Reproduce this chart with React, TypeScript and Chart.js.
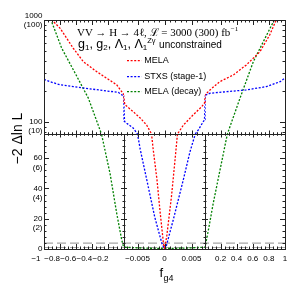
import React, { useEffect, useRef } from 'react';
import { Chart, registerables } from 'chart.js';

Chart.register(...registerables);

// ---------------- data ----------------
const melaF = [-0.95, -0.901, -0.8, -0.637, -0.512, -0.346, -0.222, -0.098, -0.036, -0.0076, -0.0074, -0.0073, -0.0058, -0.0045, -0.0033, -0.0024, -0.0021, -0.0014, -0.0008, -0.0002, 0, 0.0004, 0.0013, 0.0019, 0.0024, 0.0035, 0.0053, 0.0069, 0.0074, 0.0076, 0.07, 0.19, 0.36, 0.52, 0.69, 0.81, 0.9, 0.95];
const melaV = [1170, 1000, 829, 528, 390, 311, 268, 231, 198, 184, 153, 147, 126, 109, 93, 76, 66, 46, 24, 4, 0, 8, 35, 57, 76, 93, 117, 141, 153, 184, 206, 248, 289, 362, 489, 713, 1039, 1250];

const stxsF = [-1, -0.926, -0.8, -0.637, -0.429, -0.222, -0.078, -0.036, -0.0076, -0.0074, -0.007, -0.0058, -0.005, -0.0045, -0.0033, -0.0018, -0.0005, 0, 0.0003, 0.0016, 0.0035, 0.0047, 0.0057, 0.0063, 0.0072, 0.0074, 0.0076, 0.07, 0.28, 0.52, 0.77, 0.94, 1];
const stxsV = [261, 248, 231, 222, 211, 201, 195, 184, 182, 101, 97, 87, 76, 66, 46, 21, 4, 0, 1.5, 19, 46, 64, 76, 84, 101, 104, 182, 191, 198, 206, 222, 248, 270];

const decayF = [-0.94, -0.913, -0.78, -0.615, -0.45, -0.287, -0.181, -0.098, -0.036, -0.016, -0.0075, -0.004, 0, 0.004, 0.0075, 0.05, 0.11, 0.194, 0.285, 0.442, 0.607, 0.773, 0.867, 0.92];
const decayV = [1100, 1000, 528, 302, 171, 76, 50, 23.6, 6, 2, 1.2, 0.6, 0.3, 0.6, 1.2, 12.6, 30.3, 52.3, 76, 171, 390, 713, 1000, 1150];

const refLevels = [1, 3.84];

const seriesNames = ['MELA', 'STXS (stage-1)', 'MELA (decay)'];
const seriesColors = ['rgb(255,0,0)', 'rgb(0,0,255)', 'rgb(0,128,0)'];

// axis ranges / ticks
const xLeftRange = [-1, -0.0075];
const xMidRange = [-0.0075, 0.0075];
const xRightRange = [0.0075, 1];
const yLogRange = [76, 1000];
const yLinRange = [0, 76];

const xLeftTicks = [-1, -0.8, -0.6, -0.4, -0.2];
const xLeftLabels = ['−1', '−0.8', '−0.6', '−0.4', '−0.2'];
const xMidTicks = [-0.005, 0, 0.005];
const xMidLabels = ['−0.005', '0', '0.005'];
const xRightTicks = [0.2, 0.4, 0.6, 0.8, 1];
const xRightLabels = ['0.2', '0.4', '0.6', '0.8', '1'];
const yLogTicks = [100, 1000];
const yLogLabels = [['', '100', '(10)'], ['1000', '(100)']];
const yLinTicks = [0, 20, 40, 60];
const yLinLabels = [['0'], ['', '20', '(2)'], ['', '40', '(4)'], ['', '60', '(6)']];

const SANS = "'Liberation Sans', Arial, Helvetica, sans-serif";
const SERIF = "'Liberation Serif', 'Times New Roman', serif";

// ---------------- helpers ----------------
function labelFor(ticks: number[], labels: any[]) {
  return (value: number) => {
    const i = ticks.findIndex((t) => Math.abs(t - value) < 1e-9);
    return i >= 0 ? labels[i] : '';
  };
}

function stepValues(min: number, max: number, step: number) {
  const out: number[] = [];
  const k0 = Math.ceil(min / step - 1e-9);
  const k1 = Math.floor(max / step + 1e-9);
  for (let k = k0; k <= k1; k++) out.push(+(k * step).toFixed(6));
  return out;
}

function xScale(range: number[], ticks: number[], labels: string[], weight: number, stackWeight: number, labelOffset: number) {
  return {
    type: 'linear',
    position: 'bottom',
    stack: 'xs',
    stackWeight,
    weight,
    min: range[0],
    max: range[1],
    grid: { display: false, drawTicks: false, tickLength: 0 },
    border: { display: false },
    ticks: {
      autoSkip: false,
      maxRotation: 0,
      minRotation: 0,
      padding: 5,
      labelOffset,
      color: '#000',
      font: { size: 8, family: SANS, lineHeight: 1.15 },
      callback: labelFor(ticks, labels),
    },
    afterBuildTicks: (s: any) => {
      s.ticks = ticks.map((value) => ({ value }));
    },
    afterFit: (s: any) => {
      s.height = 37;
      s.paddingLeft = 0;
      s.paddingRight = 0;
    },
  };
}

function yScale(type: string, range: number[], ticks: number[], labels: any[], weight: number, stackWeight: number) {
  return {
    type,
    position: 'left',
    stack: 'ys',
    stackWeight,
    weight,
    min: range[0],
    max: range[1],
    grid: { display: false, drawTicks: false, tickLength: 0 },
    border: { display: false },
    ticks: {
      autoSkip: false,
      padding: 1.5,
      color: '#000',
      font: { size: 8, family: SANS, lineHeight: 1.15 },
      callback: labelFor(ticks, labels),
    },
    afterBuildTicks: (s: any) => {
      s.ticks = ticks.map((value) => ({ value }));
    },
    afterFit: (s: any) => {
      s.width = 44;
      s.paddingTop = 0;
      s.paddingBottom = 0;
    },
  };
}

// ---------------- decorations plugin ----------------
const decorPlugin = {
  id: 'decor',
  beforeDatasetsDraw(chart: any) {
    const ctx = chart.ctx;
    const yLin = chart.scales.yLin;
    const L = chart.scales.xL.left;
    const R = chart.scales.xR.right;
    ctx.save();
    ctx.strokeStyle = 'rgb(165,165,165)';
    ctx.lineWidth = 1.2;
    ctx.setLineDash([9, 4]);
    for (const lv of refLevels) {
      const y = yLin.getPixelForValue(lv);
      ctx.beginPath();
      ctx.moveTo(L, y);
      ctx.lineTo(R, y);
      ctx.stroke();
    }
    ctx.restore();
  },
  afterDatasetsDraw(chart: any) {
    const ctx = chart.ctx;
    const { xL, xM, xR, yLog, yLin } = chart.scales;
    const L = xL.left, R = xR.right, T = yLog.top, M = yLin.top, B = yLin.bottom;
    const c = (v: number) => Math.round(v) + 0.5;
    ctx.save();
    ctx.strokeStyle = '#222';
    ctx.lineWidth = 1;
    ctx.setLineDash([]);
    const seg = (x1: number, y1: number, x2: number, y2: number) => {
      ctx.beginPath();
      ctx.moveTo(x1, y1);
      ctx.lineTo(x2, y2);
      ctx.stroke();
    };
    // frame
    ctx.strokeRect(c(L), c(T), Math.round(R) - Math.round(L), Math.round(B) - Math.round(T));
    seg(L, c(M), R, c(M));
    seg(c(xM.left), M, c(xM.left), B);
    seg(c(xM.right), M, c(xM.right), B);

    // x ticks
    const xsets: any[] = [
      [xL, xLeftTicks, 0.05],
      [xM, xMidTicks, 0.001],
      [xR, xRightTicks, 0.05],
    ];
    for (const [s, majors, step] of xsets) {
      for (const v of stepValues(s.min, s.max, step)) {
        const isMajor = majors.some((m: number) => Math.abs(m - v) < 1e-9);
        const len = isMajor ? 5 : 2.5;
        const x = c(s.getPixelForValue(v));
        if (x < s.left - 0.5 || x > s.right + 0.5) continue;
        seg(x, B, x, B - len);
        seg(x, M, x, M + len * 0.7);
        seg(x, M, x, M - len * 0.7);
        seg(x, T, x, T + len);
      }
    }
    // y ticks (linear panel)
    for (const v of stepValues(yLin.min, yLin.max, 4)) {
      const isMajor = yLinTicks.includes(v);
      const len = isMajor ? 5 : 2.5;
      const y = c(yLin.getPixelForValue(v));
      seg(L, y, L + len, y);
      seg(R, y, R - len, y);
      const dl = isMajor ? 3 : 1.5;
      for (const xd of [xM.left, xM.right]) seg(xd - dl, y, xd + dl, y);
    }
    // y ticks (log panel)
    const logMinor = [80, 90, 200, 300, 400, 500, 600, 700, 800, 900];
    for (const v of [...yLogTicks, ...logMinor]) {
      const len = yLogTicks.includes(v) ? 5 : 2.5;
      const y = c(yLog.getPixelForValue(v));
      seg(L, y, L + len, y);
      seg(R, y, R - len, y);
    }

    // ---------- texts ----------
    ctx.fillStyle = '#000';
    ctx.textAlign = 'left';
    ctx.textBaseline = 'alphabetic';

    // line 1
    const t1 = 'VV → H → 4ℓ, ℒ = 3000 (300) fb';
    ctx.font = `11.5px ${SERIF}`;
    let w = ctx.measureText(t1).width;
    let size = Math.max(9, Math.min(13.5, (11.5 * 154) / w));
    ctx.font = `${size}px ${SERIF}`;
    ctx.fillText(t1, 77, 36);
    w = ctx.measureText(t1).width;
    ctx.font = `7px ${SERIF}`;
    ctx.fillText('−1', 77 + w + 0.5, 30.5);

    // line 2
    const parts: [string, number, number][] = [
      ['g', 12.5, 47.5],
      ['1', 8, 50],
      [', g', 12.5, 47.5],
      ['2', 8, 50],
      [', Λ', 12.5, 47.5],
      ['1', 8, 50],
      [', Λ', 12.5, 47.5],
      ['1', 8, 50],
      ['Zγ', 7.5, 43],
    ];
    let x = 78;
    for (const [txt, fs, by] of parts) {
      ctx.font = `${fs}px ${SANS}`;
      ctx.fillText(txt, x, by);
      x += ctx.measureText(txt).width;
    }
    ctx.font = `10px ${SANS}`;
    ctx.fillText('unconstrained', x + 3.5, 48.3);

    // legend
    const rows = [60.7, 76.7, 91.7];
    for (let i = 0; i < seriesNames.length; i++) {
      ctx.save();
      ctx.strokeStyle = seriesColors[i];
      ctx.lineWidth = 1.3;
      ctx.setLineDash([2, 1.6]);
      seg(127, rows[i], 141.5, rows[i]);
      ctx.restore();
      ctx.fillStyle = '#000';
      ctx.font = `9px ${SANS}`;
      ctx.textBaseline = 'middle';
      ctx.fillText(seriesNames[i], 144.3, rows[i]);
    }

    // y title
    ctx.save();
    ctx.translate(21.5, 138.5);
    ctx.rotate(-Math.PI / 2);
    ctx.textAlign = 'center';
    ctx.textBaseline = 'alphabetic';
    ctx.font = `14px ${SANS}`;
    ctx.fillText('−2 Δln L', 0, 0);
    ctx.restore();

    // x title
    ctx.textBaseline = 'alphabetic';
    ctx.textAlign = 'left';
    ctx.font = `13px ${SANS}`;
    ctx.fillText('f', 159.5, 276.5);
    const fw = ctx.measureText('f').width;
    ctx.font = `9px ${SANS}`;
    ctx.fillText('g4', 159.5 + fw + 0.3, 280.5);

    ctx.restore();
  },
};

// ---------------- datasets ----------------
function buildDatasets() {
  const series = [
    { f: melaF, v: melaV },
    { f: stxsF, v: stxsV },
    { f: decayF, v: decayV },
  ];
  const ds: any[] = [];
  series.forEach((s, si) => {
    for (const xId of ['xL', 'xM', 'xR']) {
      for (const yId of ['yLog', 'yLin']) {
        const pts = s.f
          .map((f, i) => ({ x: f, y: s.v[i] }))
          .filter((p) => (yId === 'yLog' ? p.y > 0 : true));
        ds.push({
          label: seriesNames[si],
          data: pts,
          xAxisID: xId,
          yAxisID: yId,
          borderColor: seriesColors[si],
          backgroundColor: seriesColors[si],
          borderWidth: 1.3,
          borderDash: [2, 1.6],
          pointRadius: 0,
          fill: false,
          tension: 0,
          clip: 0,
        });
      }
    }
  });
  return ds;
}

export default function App() {
  const ref = useRef<HTMLCanvasElement>(null);
  useEffect(() => {
    const chart = new Chart(ref.current as HTMLCanvasElement, {
      type: 'line',
      data: { datasets: buildDatasets() },
      options: {
        responsive: false,
        devicePixelRatio: 1,
        animation: false,
        events: [],
        layout: { padding: { top: 20, right: 6, left: 0, bottom: 0 } },
        plugins: { legend: { display: false }, tooltip: { enabled: false } },
        scales: {
          xL: xScale(xLeftRange, xLeftTicks, xLeftLabels, 0, 80, -8),
          xM: xScale(xMidRange, xMidTicks, xMidLabels, 1, 81, 0),
          xR: xScale(xRightRange, xRightTicks, xRightLabels, 2, 80, 0),
          yLog: yScale('logarithmic', yLogRange, yLogTicks, yLogLabels, 1, 114),
          yLin: yScale('linear', yLinRange, yLinTicks, yLinLabels, 0, 115),
        } as any,
      },
      plugins: [decorPlugin],
    } as any);
    return () => chart.destroy();
  }, []);
  return (
    <div style={{ position: 'fixed', left: 0, top: 0, width: 291, height: 286, background: '#fff' }}>
      <canvas ref={ref} width={291} height={286} style={{ display: 'block', width: 291, height: 286 }} />
    </div>
  );
}
